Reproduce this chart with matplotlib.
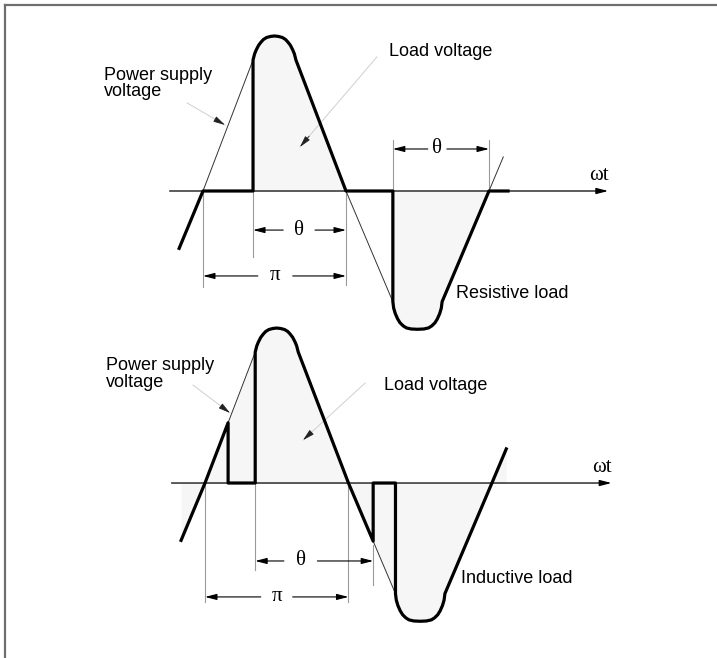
import matplotlib

matplotlib.use("Agg")

import numpy as np
import matplotlib.pyplot as plt
from matplotlib.lines import Line2D

# supply voltage (angle in degrees, amplitude normalised to the peak)
supply_deg = np.array([-30, 0, 63, 65, 67, 70, 73, 76, 80, 85, 90, 95, 100, 104, 107, 110, 113,
                       115, 117, 180,
                       239, 240, 242, 245, 248, 252, 256, 262, 270, 278, 284, 288, 292, 295,
                       298, 300, 301, 360, 378])
supply_amp = np.array([-0.37, 0, 0.845, 0.885, 0.91, 0.94, 0.96, 0.977, 0.99, 0.997, 1.0, 0.997,
                       0.99, 0.977, 0.96, 0.94, 0.91, 0.885, 0.845, 0,
                       -0.714, -0.755, -0.79, -0.825, -0.85, -0.87, -0.883, -0.89, -0.892,
                       -0.89, -0.883, -0.87, -0.85, -0.825, -0.79, -0.755, -0.714, 0, 0.22])

# conduction intervals of the thyristors (start, stop), degrees
res_on = [-30, 63, 239]
res_off = [0, 180, 360]
res_end = 384
ind_on = [-30, 63, 239]
ind_off = [29, 211, 378]
ind_end = 378

# dimension lines: (start, stop, level, label, label position, gap)
res_dims = [(63, 180, -0.252, "θ", 121, 20), (0, 180, -0.548, "π", 91, 22),
            (239, 360, 0.271, "θ", 295, 12)]
res_ext = [(0, 0, -0.62), (63, 0, -0.426), (180, 0, -0.606), (239, 0, 0.33), (360, 0, 0.33)]
ind_dims = [(63, 211, -0.503, "θ", 120, 21), (0, 180, -0.735, "π", 90, 20)]
ind_ext = [(0, 0, -0.768), (63, 0, -0.561), (180, 0, -0.768), (211, -0.4, -0.658)]

fill_col = "#f6f6f6"
sans = "Liberation Sans"
serif = "Liberation Serif"


def load_wave(on, off, end):
    xs, ys = [], []
    for k, (a, b) in enumerate(zip(on, off)):
        if k > 0:
            xs.append(a)
            ys.append(0)
        inside = (supply_deg > a) & (supply_deg < b)
        xs += [a] + list(supply_deg[inside]) + [b]
        ys += [np.interp(a, supply_deg, supply_amp)] + list(supply_amp[inside]) + \
              [np.interp(b, supply_deg, supply_amp)]
        if b < supply_deg[-1]:
            xs.append(b)
            ys.append(0)
    if end > xs[-1]:
        xs.append(end)
        ys.append(0)
    return xs, ys


def arrow(ax, x0, y0, x1, y1, col="black", lw=0.8):
    ax.annotate("", xy=(x1, y1), xytext=(x0, y0),
                arrowprops=dict(arrowstyle="-|>,head_width=0.18,head_length=0.7",
                                color=col, lw=lw, shrinkA=0, shrinkB=0,
                                mutation_scale=10))


def pointer(ax, x0, y0, x1, y1):
    # light grey leader with a dark little head
    ax.plot([x0, x1], [y0, y1], color="#cfcfcf", lw=0.7)
    dx, dy = x1 - x0, y1 - y0
    arrow(ax, x1 - 0.12 * dx, y1 - 0.12 * dy, x1, y1, col="#222222", lw=0.6)


def panel(ax, on, off, end, dims, ext, fill_all, label_y, load_name, name_xy):
    ax.axis("off")
    if fill_all:
        ax.fill_between(supply_deg, supply_amp, 0, color=fill_col, lw=0)
    else:
        for a, b in zip(on[1:], off[1:]):
            m = (supply_deg >= a) & (supply_deg <= b)
            ax.fill_between(supply_deg[m], supply_amp[m], 0, color=fill_col, lw=0)

    # time axis
    arrow(ax, -42, 0, 510, 0, lw=0.9)
    ax.text(498, 0.1, "ωt", family=serif, fontsize=15, ha="center", va="center")

    ax.plot(supply_deg, supply_amp, color="#333333", lw=0.7, zorder=3)
    lx, ly = load_wave(on, off, end)
    ax.plot(lx, ly, color="black", lw=2.3, zorder=4, solid_joinstyle="round")

    for x, y0, y1 in ext:
        ax.plot([x, x], [y0, y1], color="#9a9a9a", lw=0.8, zorder=2)
    for a, b, y, lab, lpos, gap in dims:
        arrow(ax, lpos - gap, y, a, y)
        arrow(ax, lpos + gap, y, b, y)
        ax.text(lpos, y, lab, family=serif, fontsize=15, ha="center", va="center")

    ax.text(label_y[0], label_y[1], "Power supply\nvoltage", family=sans, fontsize=13,
            ha="left", va="center", linespacing=0.95)
    ax.text(name_xy[0], name_xy[1], load_name, family=sans, fontsize=13,
            ha="left", va="center")


fig = plt.figure(figsize=(7.17, 6.58), dpi=100)

ax1 = fig.add_axes([0, 0.4833, 1, 0.5167])
ax1.set_xlim(-255.5, 647.0)
ax1.set_ylim(-0.961, 1.232)
panel(ax1, res_on, res_off, res_end, res_dims, res_ext, False,
      (-124.6, 0.694), "Resistive load", (318.5, -0.658))
ax1.text(234, 0.903, "Load voltage", family=sans, fontsize=13, ha="left", va="center")
pointer(ax1, -20, 0.568, 27.7, 0.426)
pointer(ax1, 219, 0.865, 122, 0.284)

ax2 = fig.add_axes([0, 0, 1, 0.5441])
ax2.set_xlim(-257.2, 642.4)
ax2.set_ylim(-1.129, 1.181)
panel(ax2, ind_on, ind_off, ind_end, ind_dims, ind_ext, True,
      (-124.2, 0.703), "Inductive load", (321, -0.613))
ax2.text(224.6, 0.632, "Load voltage", family=sans, fontsize=13, ha="left", va="center")
pointer(ax2, -15, 0.632, 31.4, 0.452)
pointer(ax2, 200.8, 0.645, 123, 0.277)

# frame: only top and left edges are visible
fy = 1 - 5 / 658
fx = 5 / 717
fig.add_artist(Line2D([fx, 1], [fy, fy], color="#6e6e6e", lw=1.6, transform=fig.transFigure))
fig.add_artist(Line2D([fx, fx], [0, fy], color="#6e6e6e", lw=1.6, transform=fig.transFigure))

fig.savefig("out.png", dpi=100)
